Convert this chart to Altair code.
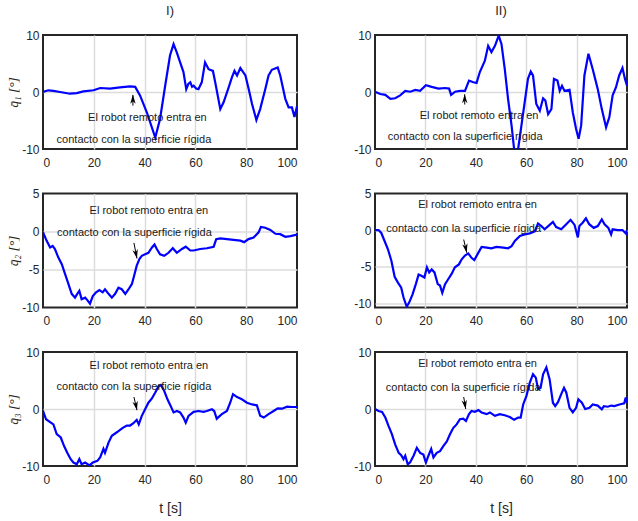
import altair as alt
import pandas as pd

# ---------------- data ----------------
t_I1 = [0, 2.1, 4.1, 6.7, 10.6, 13.3, 15.9, 19.9, 22.5, 26.4, 30.3, 34.3, 36.3, 38.2, 40.9, 44.2, 46.1, 48.1,
        50.0, 51.4, 52.7, 54.0, 55.3, 56.4, 57.2, 58.0, 58.7, 59.3, 60.3, 61.2, 62.5, 63.8, 65.2, 66.9, 67.8,
        69.8, 71.1, 73.1, 74.4, 75.4, 76.4, 77.7, 79.7, 81.0, 82.3, 84.0, 85.5, 87.5, 88.8, 90.1, 92.4, 93.4,
        95.4, 96.7, 98.0, 99.0, 100]
q_I1 = [0, 0.3, 0.2, 0, -0.3, -0.2, 0.1, 0.3, 0.7, 0.6, 0.8, 1.0, 0.9, -0.6, -3.6, -8.0, -4.7, 1.1,
        6.4, 8.4, 6.9, 5.2, 3.5, 0.5, 1.4, 1.7, 0.9, 1.1, 0.6, 0.5, 1.7, 5.2, 4.0, 3.7, 1.7,
        -3.0, -1.8, 0.8, 2.6, 3.7, 2.9, 4.2, 2.9, 0.5, -2.1, -4.9, -3.0, 0.5, 2.9, 3.9, 4.3, 2.9,
        -1.2, -2.7, -2.7, -4.4, -2.5]

t_II1 = [0, 2.1, 4.1, 6.1, 8.0, 10.0, 12.0, 14.0, 16.0, 17.9, 20.2, 22.5, 25.2, 27.8, 29.4, 30.2, 31.8, 33.7,
         35.7, 37.3, 39.0, 40.3, 41.6, 43.6, 44.9, 46.2, 47.6, 49.1, 50.2, 51.5, 52.8, 54.2, 55.2, 56.0, 56.8,
         58.1, 59.4, 60.7, 61.8, 62.7, 64.0, 65.4, 66.7, 67.6, 68.7, 70.0, 71.0, 72.4, 73.3, 74.2, 75.2, 77.2,
         78.5, 79.8, 80.8, 81.8, 83.1, 84.7, 86.4, 88.4, 90.0, 91.7, 93.0, 94.3, 95.6, 96.9, 98.2, 99.2, 100]
q_II1 = [0.05, -0.35, -0.5, -1.2, -1.1, -0.6, 0.2, 0.05, 0.35, 0.2, 1.2, 0.9, 0.6, 0.7, 0.6, -0.5, 0.05, 0.2,
         0.2, 2.0, 1.7, 1.6, 3.5, 5.5, 8.1, 7.0, 8.1, 9.9, 8.4, 4.0, -1.2, -5.9, -10.0, -11.5, -10.0,
         -5.9, -1.8, 2.3, 3.6, 2.9, -2.1, -3.3, -1.1, -1.5, -3.9, -3.0, 2.3, 2.0, 0.2, 1.1, 0.2, 0.4,
         -3.6, -6.5, -8.2, -5.9, 2.9, 6.7, 4.0, 0.5, -3.0, -6.2, -4.4, -0.6, 0.8, 2.9, 4.2, 2.3, 1.1]

t_I2 = [0, 1.4, 2.8, 3.8, 4.7, 6.0, 7.4, 8.7, 10.0, 11.3, 12.6, 13.5, 14.3, 15.2, 16.6, 17.6, 18.5, 19.6,
        20.9, 22.2, 23.5, 24.4, 25.8, 27.1, 28.4, 29.7, 31.0, 32.4, 33.7, 35.0, 35.9, 36.9, 38.0, 38.9, 40.2,
        41.5, 42.9, 43.9, 44.8, 46.1, 47.7, 49.4, 51.1, 52.7, 54.7, 56.2, 58.0, 59.3, 61.9, 64.5, 67.2, 68.2,
        69.8, 72.4, 75.0, 77.7, 79.2, 80.9, 82.9, 84.9, 85.8, 87.5, 89.5, 91.5, 93.4, 95.4, 97.4, 100]
q_I2 = [-0.1, -1.2, -2.1, -1.9, -2.3, -3.4, -4.3, -5.6, -6.9, -8.2, -8.7, -8.2, -7.8, -8.9, -8.7, -9.1, -9.5, -8.5,
        -8.0, -7.7, -8.0, -7.6, -8.2, -8.7, -8.2, -7.4, -7.6, -8.2, -7.6, -6.9, -5.8, -4.5, -3.6, -3.2, -3.0,
        -2.8, -2.1, -1.7, -2.3, -3.0, -3.2, -2.8, -2.2, -2.8, -2.3, -2.0, -2.5, -2.5, -2.3, -2.2, -2.0, -1.0,
        -0.9, -1.0, -1.1, -1.2, -1.4, -1.0, -0.8, -0.1, 0.6, 0.5, 0.2, -0.3, -0.35, -0.7, -0.6, -0.4]

t_II2 = [0, 1.4, 2.5, 3.8, 5.1, 6.5, 7.8, 9.1, 10.4, 11.3, 12.6, 13.6, 14.9, 16.2, 17.3, 18.6, 19.6, 20.6,
         21.5, 22.5, 23.6, 24.9, 25.8, 26.7, 27.8, 29.1, 30.4, 31.7, 33.3, 34.4, 35.7, 37.0, 38.3, 39.4, 40.7,
         42.3, 44.3, 46.2, 48.2, 50.9, 52.8, 54.2, 55.5, 57.5, 59.4, 61.4, 63.4, 64.7, 66.0, 67.3, 69.3, 70.6,
         71.9, 73.9, 75.9, 77.6, 79.2, 80.5, 81.1, 82.4, 83.7, 85.0, 86.8, 88.4, 90.0, 91.1, 92.6, 93.7, 94.3,
         96.3, 98.2, 99.6, 100]
q_II2 = [0, 0, -0.4, -1.5, -2.6, -4.2, -6.4, -7.2, -7.9, -9.2, -10.5, -9.9, -8.8, -7.4, -6.1, -6.3, -6.5, -5.1,
         -5.8, -5.4, -5.8, -7.4, -7.6, -8.6, -7.4, -6.7, -6.0, -5.1, -4.7, -4.0, -3.5, -3.2, -3.8, -4.1, -3.3,
         -2.3, -2.4, -2.5, -2.3, -2.4, -2.5, -2.2, -1.5, -0.8, -0.6, -0.45, -0.2, 0.9, 0.55, 0.1, 0.7, 1.1,
         0.4, 0.1, 0.8, 1.4, 0.7, -1.0, 0.55, 1.0, 1.6, 0.8, 0.3, 0.55, 1.45, 0.8, 0.3, -0.6, 0.1,
         0, 0, -0.5, 0]

t_I3 = [0, 1.2, 2.8, 4.1, 5.4, 7.0, 8.3, 9.6, 10.9, 12.0, 13.3, 14.3, 15.2, 16.6, 18.3, 19.6, 21.4, 22.5,
        23.8, 24.4, 25.8, 27.1, 28.4, 29.7, 31.4, 33.0, 34.3, 35.6, 36.9, 37.7, 38.9, 40.2, 41.5, 42.8, 44.2,
        45.5, 46.4, 47.7, 49.0, 50.3, 51.4, 52.7, 54.0, 55.3, 56.2, 57.3, 59.3, 61.2, 63.2, 64.5, 66.5, 67.4,
        68.4, 70.4, 72.4, 73.7, 74.8, 76.4, 78.3, 80.3, 82.3, 84.2, 85.5, 86.9, 88.8, 90.8, 92.4, 94.1, 96.1,
        98.0, 100]
q_I3 = [-0.35, -1.8, -2.3, -2.7, -4.4, -5.0, -6.5, -7.7, -8.8, -9.4, -9.7, -8.8, -9.7, -9.4, -9.9, -9.4, -9.1, -8.5,
        -7.0, -7.7, -5.9, -4.7, -4.3, -3.9, -3.3, -2.9, -2.9, -2.5, -1.9, -2.7, -1.2, -0.05, 1.1, 1.8, 2.9,
        4.0, 4.2, 3.2, 1.7, 0.5, -0.6, -0.35, -0.6, -1.5, -2.4, -1.2, -0.5, -0.35, -0.5, -0.35, -0.05, -0.35,
        -1.7, -0.9, -0.35, 1.1, 2.6, 2.1, 1.7, 1.1, 0.8, 0.65, -1.2, -1.5, -0.9, -0.35, 0.1, 0.05, 0.4,
        0.35, 0.35]

t_II3 = [0, 1.4, 2.8, 4.1, 5.4, 6.7, 8.0, 9.4, 10.4, 11.3, 12.0, 13.0, 13.9, 15.3, 16.6, 17.9, 19.2, 20.2,
         21.2, 22.3, 23.2, 24.5, 25.8, 27.1, 28.5, 29.8, 31.1, 32.4, 33.7, 35.0, 36.1, 37.3, 38.3, 39.6, 41.0,
         42.3, 44.3, 45.6, 47.6, 49.5, 51.5, 53.5, 55.2, 56.8, 57.8, 58.8, 60.1, 61.4, 62.7, 63.8, 64.7, 65.7,
         66.7, 68.0, 69.3, 70.6, 71.5, 72.6, 73.9, 75.0, 75.9, 77.2, 78.5, 79.8, 80.7, 82.1, 83.4, 85.1, 86.4,
         88.4, 90.0, 90.8, 92.4, 93.7, 95.0, 97.0, 98.9, 99.5, 100]
q_II3 = [0, -0.35, -0.5, -1.5, -3.0, -4.4, -6.2, -7.7, -8.1, -8.8, -8.2, -9.7, -9.4, -8.2, -6.8, -7.7, -8.0, -9.4,
         -8.2, -7.0, -8.5, -7.7, -7.4, -6.5, -5.7, -4.4, -3.3, -2.7, -1.8, -1.7, -2.1, -0.9, -0.35, -0.5, -0.2,
         -0.6, -0.9, -0.6, -1.2, -0.9, -1.1, -1.4, -1.9, -1.5, -1.5, 0.8, 2.3, 4.6, 6.1, 5.5, 3.5, 3.7,
         6.1, 7.3, 5.2, 1.1, 0.5, 1.2, 2.6, 3.7, 2.9, 0.2, -0.6, 0.2, 1.7, 1.1, 0, 0.2, 0.8,
         0.6, -0.05, 0.5, 0.4, 0.6, 0.5, 0.8, 1.0, 2.0, 1.1]

x_ticks = [0, 20, 40, 60, 80, 100]
col_titles = ["I)", "II)"]
y_titles = ["q̄₁  [°]", "q̄₂  [°]", "q̄₃  [°]"]
ann_lines = ["El robot remoto entra en", "contacto con la superficie rígida"]

# ---------------- styling ----------------
FONT = "Liberation Sans, Arial, sans-serif"
TXT = "#262626"
BLUE = "#0000ff"
WIDTHS = [254, 252]
H = 114
UP_HEAD = "M0,0 L-0.6,2 L0,1.4 L0.6,2 Z"
DOWN_HEAD = "M0,0 L-0.6,-2 L0,-1.4 L0.6,-2 Z"

panels_spec = [
    # series, y-domain, y-ticks, text positions, arrow tail, arrow tip, head, angle
    (t_I1, q_I1, [-10, 10], [-10, 0, 10], [(41.1, -4.56), (35.8, -8.4)], (35.4, -2.4), (35.4, -0.5), UP_HEAD, 0),
    (t_II1, q_II1, [-10, 10], [-10, 0, 10], [(41.3, -4.2), (35.8, -7.9)], (35.6, -2.2), (35.6, -0.4), UP_HEAD, 0),
    (t_I2, q_I2, [-10, 5], [-10, -5, 0, 5], [(41.7, 2.76), (36.0, -0.26)], (35.8, -1.5), (37.0, -3.55), DOWN_HEAD, 348),
    (t_II2, q_II2, [-10.6, 5], [-10, -5, 0, 5], [(40.7, 3.36), (35.2, 0.21)], (35.2, -1.3), (36.4, -3.1), DOWN_HEAD, 348),
    (t_I3, q_I3, [-10, 10], [-10, 0, 10], [(41.7, 7.54), (35.8, 3.86)], (35.8, 2.1), (37.0, -0.2), DOWN_HEAD, 348),
    (t_II3, q_II3, [-10, 10], [-10, 0, 10], [(40.7, 7.9), (35.0, 3.68)], (35.2, 2.1), (36.0, 0.0), DOWN_HEAD, 350),
]


def make_panel(i, spec):
    t, q, ydom, yticks, tpos, tail, tip, head, angle = spec
    row, col = divmod(i, 2)
    edge_test_x = "datum.value == 0 || datum.value == 100"
    edge_test_y = f"datum.value == {ydom[0]} || datum.value == {ydom[1]}"

    xa = dict(values=x_ticks, labelPadding=8,
              gridOpacity={"condition": {"test": edge_test_x, "value": 0}, "value": 1})
    if row == 2:
        xa.update(titlePadding=16)
    ya = dict(values=yticks, labelPadding=4,
              labelExpr="replace(datum.label, '\u2212', '-')",
              gridOpacity={"condition": {"test": edge_test_y, "value": 0}, "value": 1})
    if col == 0:
        ya.update(titleFont="Liberation Serif", titleFontStyle="italic",
                  titleFontSize=13.5, titleFontWeight="normal", titlePadding=1)

    X = alt.X("t:Q", scale=alt.Scale(domain=[0, 100], nice=False),
              axis=alt.Axis(**xa), title=("t [s]" if row == 2 else None))
    Y = alt.Y("q:Q", scale=alt.Scale(domain=ydom, nice=False, zero=False),
              axis=alt.Axis(**ya), title=(y_titles[row] if col == 0 else None))

    df = pd.DataFrame({"t": t, "q": q})
    line = alt.Chart(df).mark_line(color=BLUE, strokeWidth=2.2, clip=True).encode(x=X, y=Y)

    tdf = pd.DataFrame({"t": [p[0] for p in tpos], "q": [p[1] for p in tpos], "txt": ann_lines})
    text = alt.Chart(tdf).mark_text(font=FONT, fontSize=11, color="#1a1a1a", align="center",
                                    baseline="middle").encode(x=X, y=Y, text="txt:N")

    adf = pd.DataFrame({"t": [tail[0]], "q": [tail[1]], "t2": [tip[0]], "q2": [tip[1]]})
    stem = alt.Chart(adf).mark_rule(color="black", strokeWidth=1).encode(
        x=X, y=Y, x2="t2:Q", y2="q2:Q")
    hdf = pd.DataFrame({"t": [tip[0]], "q": [tip[1]]})
    headm = alt.Chart(hdf).mark_point(shape=head, size=81, filled=True, color="black",
                                      opacity=1, angle=angle).encode(x=X, y=Y)

    layer = alt.layer(line, stem, headm, text).properties(width=WIDTHS[col], height=H)
    if row == 0:
        layer = layer.properties(title=alt.TitleParams(col_titles[col], anchor="middle", frame="group",
                                                       offset=11, fontSize=13, font=FONT,
                                                       color=TXT, fontWeight="normal"))
    return layer


panels = [make_panel(i, s) for i, s in enumerate(panels_spec)]

chart = alt.concat(*panels, columns=2, spacing={"row": 44.5, "column": 78}, bounds="flush").properties(
    padding={"left": 5, "top": 4, "right": 0, "bottom": 2},
    background="white",
).configure_view(
    stroke="#262626", strokeWidth=2
).configure_axis(
    labelFont=FONT, labelFontSize=12, labelColor=TXT,
    titleFont=FONT, titleFontSize=14, titleColor=TXT, titleFontWeight="normal",
    domain=False, ticks=False, grid=True, gridColor="#dcdcdc", gridWidth=1.5,
)

chart.save("out.html", embed_options={"renderer": "svg", "actions": False})
